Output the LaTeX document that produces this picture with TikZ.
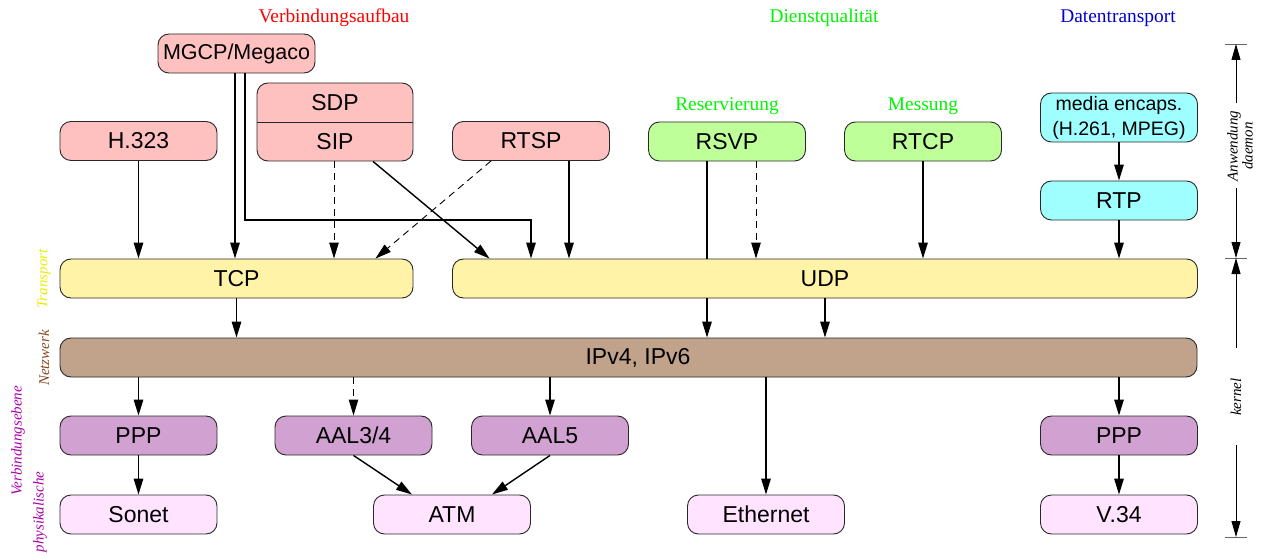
\documentclass[tikz,border=0pt]{standalone}
\usepackage{fontspec}
\setmainfont{Liberation Serif}
\newfontfamily\boxfont{Liberation Sans}
\usetikzlibrary{arrows.meta}

\definecolor{sigpink}{RGB}{255,192,192}
\definecolor{qosgreen}{RGB}{191,255,153}
\definecolor{mediacyan}{RGB}{159,255,255}
\definecolor{transyellow}{RGB}{255,243,168}
\definecolor{netbrown}{RGB}{192,163,138}
\definecolor{linkpurple}{RGB}{209,161,209}
\definecolor{physpink}{RGB}{255,227,255}
\definecolor{boxline}{RGB}{40,40,40}
\definecolor{lbltrans}{RGB}{235,235,0}
\definecolor{lblnet}{RGB}{139,74,32}
\definecolor{lblphys}{RGB}{170,0,170}
\definecolor{lblred}{RGB}{255,0,0}
\definecolor{lblgreen}{RGB}{0,245,0}
\definecolor{lblblue}{RGB}{0,0,210}

\tikzset{
  box/.style={draw=boxline, line width=0.9pt, rounded corners=11pt,
    minimum width=157pt, minimum height=39pt, inner sep=0pt,
    font=\boxfont\fontsize{23}{26}\selectfont},
  conn/.style={line width=1.4pt, -{Triangle[length=16pt,width=9.5pt]}},
  dconn/.style={line width=0.9pt, dash pattern=on 7pt off 5pt,
    -{Triangle[length=16pt,width=9.5pt]}},
  plainline/.style={line width=1.4pt},
  toplabel/.style={font=\fontsize{19.4}{22}\selectfont},
  sidelabel/.style={rotate=90, font=\itshape\fontsize{15}{15}\selectfont},
  scaleline/.style={line width=0.9pt, -{Triangle[length=16pt,width=9pt]}},
  scalebar/.style={line width=0.9pt, draw=black!60},
}

\begin{document}
\begin{tikzpicture}[x=1pt,y=-1pt]
\useasboundingbox (0,0) rectangle (1264,559);

% column headings
\node[toplabel, text=lblred]   (hsetup) at (334,18)  {Verbindungsaufbau};
\node[toplabel, text=lblgreen] (hqos)   at (824,18)  {Dienstqualität};
\node[toplabel, text=lblblue]  (hdata)  at (1118,18) {Datentransport};
\node[toplabel, text=lblgreen] (hres)   at (727,106) {Reservierung};
\node[toplabel, text=lblgreen] (hmeas)  at (923,106) {Messung};

% application layer
\node[box, fill=sigpink, font=\boxfont\fontsize{21.5}{24}\selectfont] (mgcp) at (236.5,53.5) {MGCP/Megaco};
\node[box, fill=sigpink, minimum width=156pt, minimum height=78pt] (sdpsip) at (335,122) {};
\draw[draw=boxline, line width=0.9pt] (sdpsip.west) -- (sdpsip.east);
\node[font=\boxfont\fontsize{23}{26}\selectfont] (sdp) at (335,102.5) {SDP};
\node[font=\boxfont\fontsize{23}{26}\selectfont] (sip) at (335,141.5) {SIP};
\node[box, fill=sigpink]  (h323) at (138.5,141) {H.323};
\node[box, fill=sigpink]  (rtsp) at (531,141) {RTSP};
\node[box, fill=qosgreen] (rsvp) at (727,141.5) {RSVP};
\node[box, fill=qosgreen] (rtcp) at (923,141.5) {RTCP};
\node[box, fill=mediacyan, minimum height=49pt, align=center,
      font=\boxfont\fontsize{19.5}{25}\selectfont] (media) at (1119,117.5) {media encaps.\\(H.261, MPEG)};
\node[box, fill=mediacyan] (rtp) at (1119,200.5) {RTP};

% transport and network layer
\node[box, fill=transyellow, minimum width=353pt] (tcp) at (236.5,278.5) {TCP};
\node[box, fill=transyellow, minimum width=745pt] (udp) at (825,278.5) {UDP};
\node[box, fill=netbrown, minimum width=1137pt] (ip) at (628.5,357.5) {\hspace*{19pt}IPv4, IPv6};

% link layer
\node[box, fill=linkpurple] (ppp1)  at (138.5,435.5) {PPP};
\node[box, fill=linkpurple] (aal34) at (353.5,435.5) {AAL3/4};
\node[box, fill=linkpurple] (aal5)  at (550,435.5)   {AAL5};
\node[box, fill=linkpurple] (ppp2)  at (1119,435.5)  {PPP};

% physical layer
\node[box, fill=physpink] (sonet) at (138.5,514.5) {Sonet};
\node[box, fill=physpink] (atm)   at (452,514.5)   {ATM};
\node[box, fill=physpink] (eth)   at (766,514.5)   {Ethernet};
\node[box, fill=physpink] (v34)   at (1119,514.5)  {V.34};

% connectors into the transport layer
\draw[conn] (h323.south) -- (h323.south |- tcp.north);
\draw[conn] ([xshift=-1.5pt]mgcp.south) -- ([xshift=-1.5pt]mgcp.south |- tcp.north);
\coordinate (mgcpbend) at (531,220);
\draw[conn] ([xshift=8.5pt]mgcp.south) |- (mgcpbend) -- (mgcpbend |- udp.north);
\draw[dconn] ([xshift=-1pt]sdpsip.south) -- ([xshift=-1pt]sdpsip.south |- tcp.north);
\draw[conn] ([xshift=38pt]sdpsip.south) -- ([xshift=37.5pt]udp.north west);
\draw[dconn] ([xshift=-40pt]rtsp.south) -- ([xshift=-38pt]tcp.north east);
\draw[conn] ([xshift=38pt]rtsp.south) -- ([xshift=38pt]rtsp.south |- udp.north);
\draw[plainline] ([xshift=-20pt]rsvp.south) -- ([xshift=-20pt]rsvp.south |- udp.north);
\draw[dconn] ([xshift=29pt]rsvp.south) -- ([xshift=29pt]rsvp.south |- udp.north);
\draw[conn] (rtcp.south) -- (rtcp.south |- udp.north);
\draw[conn] (media.south) -- (rtp.north);
\draw[conn] (rtp.south) -- (rtp.south |- udp.north);

% connectors into the network layer
\draw[conn] (tcp.south) -- (tcp.south |- ip.north);
\draw[conn] ([xshift=-20pt]rsvp.south |- udp.south) -- ([xshift=-20pt]rsvp.south |- ip.north);
\draw[conn] (udp.south) -- (udp.south |- ip.north);

% connectors into the link and physical layer
\draw[conn] (ppp1.north |- ip.south) -- (ppp1.north);
\draw[dconn] (aal34.north |- ip.south) -- (aal34.north);
\draw[conn] (aal5.north |- ip.south) -- (aal5.north);
\draw[conn] (eth.north |- ip.south) -- (eth.north);
\draw[conn] (ppp2.north |- ip.south) -- (ppp2.north);
\draw[conn] (ppp1.south) -- (sonet.north);
\draw[conn] (ppp2.south) -- (v34.north);
\draw[conn] (aal34.south) -- ([xshift=-40pt]atm.north);
\draw[conn] (aal5.south) -- ([xshift=40pt]atm.north);

% layer names on the left
\node[sidelabel, text=lbltrans] (ltrans) at (44,279) {Transport};
\node[sidelabel, text=lblnet]   (lnet)   at (44,358) {Netzwerk};
\node[sidelabel, text=lblphys]  (llink)  at (18,441) {Verbindungsebene};
\node[sidelabel, text=lblphys]  (lphys)  at (40,512) {physikalische};

% user space / kernel scale on the right
\coordinate (stop) at (1236,44);
\coordinate (smid) at (1236,258);
\coordinate (sbot) at (1236,537);
\coordinate (agap1) at (1236,103);
\coordinate (agap2) at (1236,188);
\coordinate (kgap1) at (1236,348);
\coordinate (kgap2) at (1236,445);
\draw[scalebar] ([xshift=-11pt]stop) -- ([xshift=11pt]stop);
\draw[scalebar] ([xshift=-11pt]smid) -- ([xshift=11pt]smid);
\draw[scalebar] ([xshift=-11pt]sbot) -- ([xshift=11pt]sbot);
\draw[scaleline] (agap1) -- (stop);
\draw[scaleline] (agap2) -- (smid);
\draw[scaleline] (kgap1) -- (smid);
\draw[scaleline] (kgap2) -- (sbot);
\node[sidelabel, align=center] (lapp) at (1240,146) {Anwendung\\daemon};
\node[sidelabel] (lkern) at (1236,397) {kernel};
\end{tikzpicture}
\end{document}
